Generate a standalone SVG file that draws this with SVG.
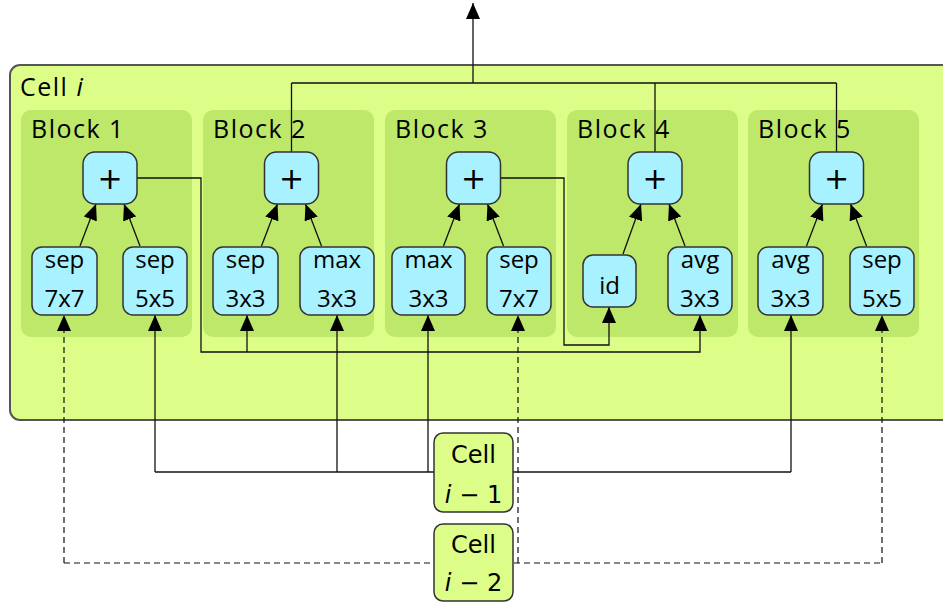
<svg xmlns="http://www.w3.org/2000/svg" width="943" height="602" viewBox="0 0 943 602">
<defs>
<marker id="ah" viewBox="0 0 16 14" markerWidth="16" markerHeight="14" refX="16" refY="7" orient="auto" markerUnits="userSpaceOnUse">
<path d="M0,0 L16,7 L0,14 z" fill="#000" stroke="none"/>
</marker>
<style>
text{font-family:"Open Sans","DejaVu Sans",sans-serif;fill:#000}
.cell{fill:#dcfd88;stroke:#555;stroke-width:2}
.blk{fill:#bde86a;stroke:none}
.op{fill:#a8f1ff;stroke:#333;stroke-width:1.5}
.prev{fill:#dcfd88;stroke:#333;stroke-width:1.5}
.lbl{font-size:25px;letter-spacing:1.5px}
.opt{font-size:24px;text-anchor:middle}
.pt{font-family:"DejaVu Sans",sans-serif;font-size:30px;text-anchor:middle}
.ct{font-family:"DejaVu Sans",sans-serif;font-size:24px;text-anchor:middle}
.c{fill:none;stroke:#111;stroke-width:1.3}
.d{fill:none;stroke:#111;stroke-width:1.2;stroke-dasharray:6,4}
.a{marker-end:url(#ah)}
</style>
</defs>
<g id="cell-i">
<rect class="cell" x="10" y="65" width="950" height="355" rx="10"/>
<text class="lbl" x="20" y="96">Cell <tspan font-style="italic">i</tspan></text>
</g>
<g id="block1"><rect class="blk" x="21" y="110" width="171" height="227" rx="10"/><text class="lbl" x="31" y="138">Block 1</text></g>
<g id="block2"><rect class="blk" x="203" y="110" width="171" height="227" rx="10"/><text class="lbl" x="213" y="138">Block 2</text></g>
<g id="block3"><rect class="blk" x="385" y="110" width="171" height="227" rx="10"/><text class="lbl" x="395" y="138">Block 3</text></g>
<g id="block4"><rect class="blk" x="567" y="110" width="171" height="227" rx="10"/><text class="lbl" x="577" y="138">Block 4</text></g>
<g id="block5"><rect class="blk" x="748" y="110" width="171" height="227" rx="10"/><text class="lbl" x="758" y="138">Block 5</text></g>

<g id="connectors">
<path class="c" d="M291.5,152 V83 M655,152 V83 M836.5,152 V83 M291.5,83 H836.5"/>
<path class="c a" d="M473,83 V3"/>
<path class="c a" d="M137,178 H201 V352 H700 V315"/>
<path class="c a" d="M247,352 V315"/>
<path class="c a" d="M500,178 H564 V345 H609 V307"/>
<path class="c" d="M155,472 H791"/>
<path class="c a" d="M155,472 V315"/>
<path class="c a" d="M337,472 V315"/>
<path class="c a" d="M428,472 V315"/>
<path class="c a" d="M791,472 V315"/>
<path class="d" d="M64,563 H882"/>
<path class="d a" d="M64,563 V315"/>
<path class="d a" d="M518,563 V315"/>
<path class="d a" d="M882,563 V315"/>
<path class="c a" d="M80,246 L96,204"/>
<path class="c a" d="M140,246 L124,204"/>
<path class="c a" d="M261.5,246 L277.5,204"/>
<path class="c a" d="M321.5,246 L305.5,204"/>
<path class="c a" d="M443.5,246 L459.5,204"/>
<path class="c a" d="M503.5,246 L487.5,204"/>
<path class="c a" d="M623,254 L641,204"/>
<path class="c a" d="M685,246 L669,204"/>
<path class="c a" d="M806.5,246 L822.5,204"/>
<path class="c a" d="M866.5,246 L850.5,204"/>
</g>

<g id="add1"><rect class="op" x="83" y="152" width="54" height="52" rx="12"/><text class="pt" x="110" y="189">+</text></g>
<g id="add2"><rect class="op" x="264.5" y="152" width="54" height="52" rx="12"/><text class="pt" x="291.5" y="189">+</text></g>
<g id="add3"><rect class="op" x="446.5" y="152" width="54" height="52" rx="12"/><text class="pt" x="473.5" y="189">+</text></g>
<g id="add4"><rect class="op" x="628" y="152" width="54" height="52" rx="12"/><text class="pt" x="655" y="189">+</text></g>
<g id="add5"><rect class="op" x="809.5" y="152" width="54" height="52" rx="12"/><text class="pt" x="836.5" y="189">+</text></g>

<g id="b1-sep7"><rect class="op" x="32" y="247" width="65" height="68" rx="10"/><text class="opt" x="64.5" y="268">sep</text><text class="opt" x="64.5" y="307">7x7</text></g>
<g id="b1-sep5"><rect class="op" x="123" y="247" width="64" height="68" rx="10"/><text class="opt" x="155" y="268">sep</text><text class="opt" x="155" y="307">5x5</text></g>
<g id="b2-sep3"><rect class="op" x="213" y="247" width="65" height="68" rx="10"/><text class="opt" x="245.5" y="268">sep</text><text class="opt" x="245.5" y="307">3x3</text></g>
<g id="b2-max3"><rect class="op" x="300" y="247" width="74" height="68" rx="10"/><text class="opt" x="337" y="268">max</text><text class="opt" x="337" y="307">3x3</text></g>
<g id="b3-max3"><rect class="op" x="392" y="247" width="73" height="68" rx="10"/><text class="opt" x="428.5" y="268">max</text><text class="opt" x="428.5" y="307">3x3</text></g>
<g id="b3-sep7"><rect class="op" x="487" y="247" width="64" height="68" rx="10"/><text class="opt" x="519" y="268">sep</text><text class="opt" x="519" y="307">7x7</text></g>
<g id="b4-id"><rect class="op" x="583" y="255" width="53" height="52" rx="10"/><text class="opt" x="609.5" y="294">id</text></g>
<g id="b4-avg3"><rect class="op" x="668" y="247" width="64" height="68" rx="10"/><text class="opt" x="700" y="268">avg</text><text class="opt" x="700" y="307">3x3</text></g>
<g id="b5-avg3"><rect class="op" x="758" y="247" width="65" height="68" rx="10"/><text class="opt" x="790.5" y="268">avg</text><text class="opt" x="790.5" y="307">3x3</text></g>
<g id="b5-sep5"><rect class="op" x="850" y="247" width="64" height="68" rx="10"/><text class="opt" x="882" y="268">sep</text><text class="opt" x="882" y="307">5x5</text></g>

<g id="cell-i-1"><rect class="prev" x="434" y="433" width="79" height="79" rx="9"/><text class="ct" x="473.5" y="463">Cell</text><text class="ct" x="473.5" y="503"><tspan font-style="italic">i</tspan> − 1</text></g>
<g id="cell-i-2"><rect class="prev" x="434" y="524" width="79" height="77" rx="9"/><text class="ct" x="473.5" y="553">Cell</text><text class="ct" x="473.5" y="591"><tspan font-style="italic">i</tspan> − 2</text></g>
</svg>
